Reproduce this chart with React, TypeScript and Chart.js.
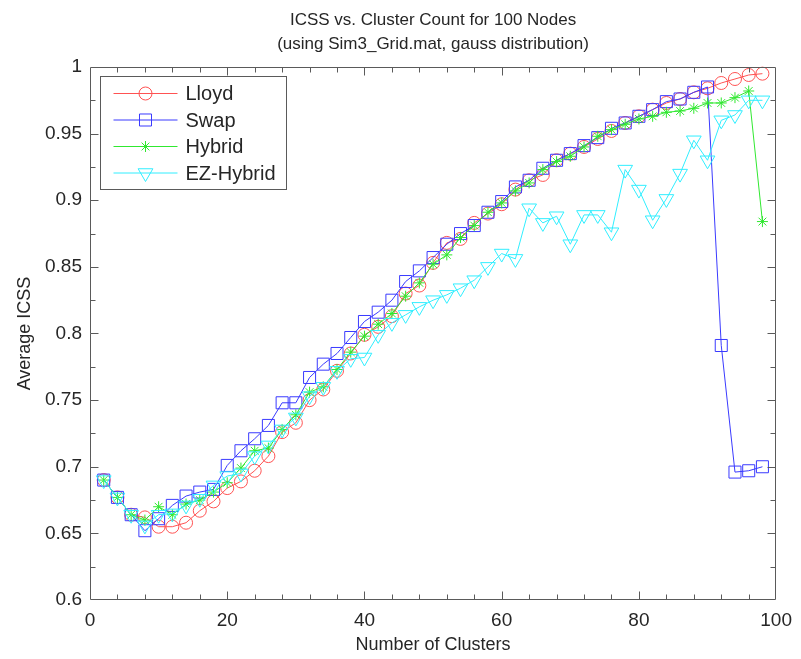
import React, { useEffect, useRef } from 'react';
import { Chart, registerables } from 'chart.js';
import { drawPoint } from 'chart.js/helpers';

Chart.register(...registerables);

// ---------- data ----------
const CLUSTERS = [
  2, 4, 6, 8, 10, 12, 14, 16, 18, 20, 22, 24, 26, 28, 30, 32, 34, 36, 38, 40,
  42, 44, 46, 48, 50, 52, 54, 56, 58, 60, 62, 64, 66, 68, 70, 72, 74, 76, 78, 80,
  82, 84, 86, 88, 90, 92, 94, 96, 98,
];

const LLOYD = [
  0.690, 0.677, 0.664, 0.662, 0.655, 0.655, 0.658, 0.667, 0.674, 0.684,
  0.689, 0.697, 0.708, 0.726, 0.733, 0.750, 0.758, 0.772, 0.785, 0.799,
  0.805, 0.813, 0.830, 0.836, 0.853, 0.868, 0.871, 0.883, 0.890, 0.897,
  0.908, 0.915, 0.919, 0.930, 0.935, 0.940, 0.946, 0.952, 0.958, 0.963,
  0.968, 0.973, 0.976, 0.981, 0.984, 0.988, 0.991, 0.994, 0.995,
];

const SWAP = [
  0.690, 0.677, 0.664, 0.652, 0.661, 0.671, 0.678, 0.681, 0.683, 0.701,
  0.712, 0.721, 0.731, 0.748, 0.748, 0.767, 0.777, 0.785, 0.797, 0.809,
  0.816, 0.825, 0.839, 0.847, 0.857, 0.867, 0.875, 0.881, 0.891, 0.899,
  0.910, 0.915, 0.924, 0.930, 0.935, 0.941, 0.947, 0.954, 0.958, 0.963,
  0.968, 0.974, 0.976, 0.981, 0.985, 0.791, 0.696, 0.697, 0.700,
];

const HYBRID = [
  0.690, 0.677, 0.664, 0.660, 0.670, 0.664, 0.672, 0.675, 0.681, 0.688,
  0.699, 0.712, 0.714, 0.728, 0.739, 0.756, 0.760, 0.773, 0.786, 0.798,
  0.807, 0.815, 0.828, 0.838, 0.852, 0.859, 0.872, 0.881, 0.891, 0.898,
  0.907, 0.913, 0.923, 0.929, 0.933, 0.940, 0.948, 0.953, 0.957, 0.961,
  0.963, 0.966, 0.967, 0.969, 0.973, 0.973, 0.977, 0.982, 0.884,
];

const EZ_HYBRID = [
  0.690, 0.677, 0.664, 0.656, 0.664, 0.665, 0.671, 0.676, 0.686, 0.693,
  0.695, 0.708, 0.716, 0.728, 0.737, 0.753, 0.760, 0.772, 0.781, 0.782,
  0.799, 0.808, 0.814, 0.820, 0.825, 0.829, 0.834, 0.840, 0.850, 0.860,
  0.856, 0.894, 0.883, 0.888, 0.867, 0.889, 0.889, 0.876, 0.923, 0.908,
  0.885, 0.901, 0.920, 0.945, 0.930, 0.960, 0.964, 0.975, 0.975,
];

const SERIES_NAMES = ['Lloyd', 'Swap', 'Hybrid', 'EZ-Hybrid'];
const X_TICK_LABELS = [0, 20, 40, 60, 80, 100];
const Y_TICK_LABELS = [0.6, 0.65, 0.7, 0.75, 0.8, 0.85, 0.9, 0.95, 1];

const TITLE_LINES = [
  'ICSS vs. Cluster Count for 100 Nodes',
  '(using Sim3_Grid.mat, gauss distribution)',
];
const X_TITLE = 'Number of Clusters';
const Y_TITLE = 'Average ICSS';

// ---------- styles ----------
const FONT = '"Liberation Sans", Arial, Helvetica, sans-serif';
const TEXT_COLOR = '#262626';
const AXIS_COLOR = '#5a5a5a';

const STYLES = [
  { color: '#ff5252', pointStyle: 'circle', radius: 6.5, rotation: 0 },
  { color: '#3a3aff', pointStyle: 'rect', radius: 8.5, rotation: 0 },
  { color: '#30e830', pointStyle: 'star', radius: 5.5, rotation: 0 },
  { color: '#30eeff', pointStyle: 'triangle', radius: 8.5, rotation: 180 },
];

const isMajor = (v: number, list: number[]) =>
  list.some((t) => Math.abs(t - v) < 1e-6);

const boxPlugin = {
  id: 'matlabBox',
  afterDatasetsDraw(chart: any) {
    const { ctx, chartArea, scales } = chart;
    const L = Math.round(chartArea.left) + 0.5;
    const R = Math.round(chartArea.right) - 0.5;
    const T = Math.round(chartArea.top) + 0.5;
    const B = Math.round(chartArea.bottom) - 0.5;
    ctx.save();
    ctx.strokeStyle = AXIS_COLOR;
    ctx.lineWidth = 1;
    ctx.beginPath();
    ctx.rect(L, T, R - L, B - T);
    const xs = scales.x;
    xs.ticks.forEach((t: any) => {
      const v = Math.round(t.value * 1000) / 1000;
      const p = Math.round(xs.getPixelForValue(t.value)) + 0.5;
      if (p <= L + 1 || p >= R - 1) return;
      const len = isMajor(v, X_TICK_LABELS) ? 8 : 5;
      ctx.moveTo(p, B);
      ctx.lineTo(p, B - len);
      ctx.moveTo(p, T);
      ctx.lineTo(p, T + len);
    });
    const ys = scales.y;
    ys.ticks.forEach((t: any) => {
      const v = Math.round(t.value * 1000) / 1000;
      const p = Math.round(ys.getPixelForValue(t.value)) + 0.5;
      if (p <= T + 1 || p >= B - 1) return;
      const len = isMajor(v, Y_TICK_LABELS) ? 8 : 5;
      ctx.moveTo(L, p);
      ctx.lineTo(L + len, p);
      ctx.moveTo(R, p);
      ctx.lineTo(R - len, p);
    });
    ctx.stroke();
    ctx.restore();
  },
};

const legendPlugin = {
  id: 'matlabLegend',
  afterDraw(chart: any) {
    const { ctx, chartArea } = chart;
    const left = Math.round(chartArea.left) + 10.5;
    const top = Math.round(chartArea.top) + 9.5;
    const width = 186;
    const height = 113;
    const rowH = 26.5;
    ctx.save();
    ctx.fillStyle = '#ffffff';
    ctx.fillRect(left, top, width, height);
    ctx.strokeStyle = AXIS_COLOR;
    ctx.lineWidth = 1;
    ctx.strokeRect(left, top, width, height);
    ctx.font = `20px ${FONT}`;
    ctx.textBaseline = 'middle';
    ctx.textAlign = 'left';
    chart.data.datasets.forEach((ds: any, i: number) => {
      const st = STYLES[i];
      const y = top + 17 + i * rowH;
      ctx.strokeStyle = st.color;
      ctx.lineWidth = 1;
      ctx.beginPath();
      ctx.moveTo(left + 13, y);
      ctx.lineTo(left + 77, y);
      ctx.stroke();
      ctx.fillStyle = 'rgba(0,0,0,0)';
      drawPoint(
        ctx,
        {
          pointStyle: st.pointStyle,
          radius: st.radius,
          rotation: st.rotation,
          borderWidth: 1,
        } as any,
        left + 45,
        y
      );
      ctx.fillStyle = TEXT_COLOR;
      ctx.fillText(ds.label, left + 85, y + 1);
    });
    ctx.restore();
  },
};

export default function App() {
  const canvasRef = useRef<HTMLCanvasElement | null>(null);

  useEffect(() => {
    const canvas = canvasRef.current;
    if (!canvas) return;
    const seriesValues = [LLOYD, SWAP, HYBRID, EZ_HYBRID];
    const datasets = seriesValues.map((vals, i) => ({
      label: SERIES_NAMES[i],
      data: CLUSTERS.map((x, j) => ({ x, y: vals[j] })),
      borderColor: STYLES[i].color,
      backgroundColor: 'rgba(0,0,0,0)',
      borderWidth: 1,
      pointStyle: STYLES[i].pointStyle,
      pointRadius: STYLES[i].radius,
      pointRotation: STYLES[i].rotation,
      pointBorderColor: STYLES[i].color,
      pointBackgroundColor: 'rgba(0,0,0,0)',
      pointBorderWidth: 1,
      tension: 0,
      fill: false,
      order: 4 - i,
      clip: false as any,
    }));

    const chart = new Chart(canvas, {
      type: 'line',
      data: { datasets } as any,
      options: {
        responsive: false,
        animation: false,
        devicePixelRatio: 1,
        layout: { padding: { left: 0, right: 24, top: 0, bottom: 0 } },
        plugins: {
          legend: { display: false },
          tooltip: { enabled: false },
          title: {
            display: true,
            fullSize: false,
            text: TITLE_LINES,
            color: TEXT_COLOR,
            font: { family: FONT, size: 17, weight: 'normal', lineHeight: 24 / 17 },
            padding: { top: 8, bottom: 11 },
          },
        },
        scales: {
          x: {
            type: 'linear',
            min: 0,
            max: 100,
            afterFit: (s: any) => {
              s.height = 59;
            },
            ticks: {
              stepSize: 4,
              autoSkip: false,
              maxRotation: 0,
              padding: 9,
              color: TEXT_COLOR,
              font: { family: FONT, size: 19 },
              callback: (v: any) => (isMajor(Number(v), X_TICK_LABELS) ? String(v) : ''),
            },
            grid: { display: true, drawOnChartArea: false, drawTicks: false },
            border: { display: false },
            title: {
              display: true,
              text: X_TITLE,
              color: TEXT_COLOR,
              font: { family: FONT, size: 18 },
              padding: { top: 0, bottom: 3 },
            },
          },
          y: {
            type: 'linear',
            min: 0.6,
            max: 1,
            afterFit: (s: any) => {
              s.width = 90;
            },
            ticks: {
              stepSize: 0.025,
              autoSkip: false,
              padding: 8,
              color: TEXT_COLOR,
              font: { family: FONT, size: 19 },
              callback: (v: any) => {
                const r = Math.round(Number(v) * 1000) / 1000;
                return isMajor(r, Y_TICK_LABELS) ? String(r) : '';
              },
            },
            grid: { display: true, drawOnChartArea: false, drawTicks: false },
            border: { display: false },
            title: {
              display: true,
              text: Y_TITLE,
              color: TEXT_COLOR,
              font: { family: FONT, size: 18 },
              padding: { top: 14, bottom: 0 },
            },
          },
        },
      } as any,
      plugins: [boxPlugin, legendPlugin],
    });
    return () => chart.destroy();
  }, []);

  return (
    <div style={{ position: 'absolute', left: 0, top: 0, width: 801, height: 659, background: '#fff' }}>
      <canvas ref={canvasRef} width={801} height={659} />
    </div>
  );
}
